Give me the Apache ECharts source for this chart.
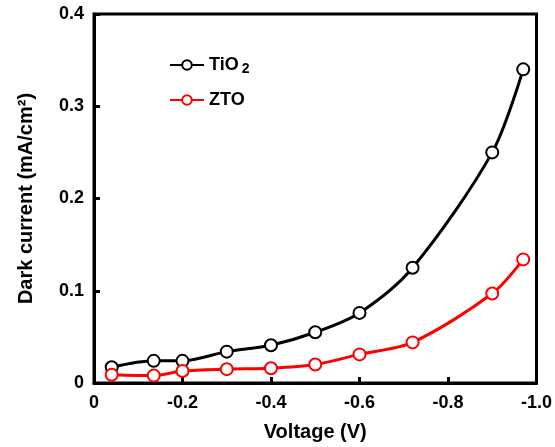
<!DOCTYPE html>
<html>
<head>
<meta charset="utf-8">
<script src="https://cdn.jsdelivr.net/npm/echarts@6/dist/echarts.min.js"></script>
<style>
html,body{margin:0;padding:0;background:#fff;}
#chart{width:555px;height:447px;}
</style>
</head>
<body>
<div id="chart"></div>
<script>
var voltage = [-0.04, -0.135, -0.2, -0.3, -0.4, -0.5, -0.6, -0.72, -0.9, -0.97];
var tio2 = [0.017, 0.024, 0.024, 0.034, 0.041, 0.055, 0.076, 0.125, 0.250, 0.340];
var zto  = [0.009, 0.008, 0.013, 0.015, 0.016, 0.020, 0.031, 0.044, 0.097, 0.134];
var seriesNames = ['TiO2', 'ZTO'];

function pairs(xs, ys){ return xs.map(function(x,i){ return [x, ys[i]]; }); }
var FONT = '"Liberation Sans", Arial, sans-serif';

var chart = echarts.init(document.getElementById('chart'), null, {renderer:'canvas'});
var legendText = {
  fontFamily: FONT, fontWeight: 'bold', fontSize: 17, color: '#000',
  rich: {
    a: {fontFamily: FONT, fontWeight: 'bold', fontSize: 18, color: '#000'},
    sub: {fontFamily: FONT, fontWeight: 'bold', fontSize: 14, color: '#000', padding: [8, 0, 0, 3]}
  }
};
chart.setOption({
  animation: false,
  backgroundColor: '#fff',
  grid: {left: 94, right: 14, top: 14, bottom: 61, show: true, borderColor: '#000', borderWidth: 3, backgroundColor: 'transparent'},
  legend: [
    {data: [seriesNames[0]], left: 164, top: 51, itemWidth: 34, itemHeight: 12,
     textStyle: legendText, formatter: function(){ return '{a|TiO}{sub|2}'; }},
    {data: [seriesNames[1]], left: 164, top: 86, itemWidth: 34, itemHeight: 12,
     textStyle: legendText, formatter: function(){ return '{a|ZTO}'; }}
  ],
  xAxis: {
    type: 'value', inverse: true, min: -1.0, max: 0, interval: 0.2,
    name: 'Voltage (V)', nameLocation: 'middle', nameGap: 39,
    nameTextStyle: {fontFamily: FONT, fontWeight: 'bold', fontSize: 20, color: '#000'},
    axisLine: {show: true, lineStyle: {color: '#000', width: 3}},
    axisTick: {show: true, inside: true, length: 6, lineStyle: {color: '#000', width: 3}},
    axisLabel: {margin: 11, fontFamily: FONT, fontWeight: 'bold', fontSize: 18, color: '#000',
      formatter: function(v){ return v === 0 ? '0' : v.toFixed(1); }},
    splitLine: {show: false}
  },
  yAxis: {
    type: 'value', min: 0, max: 0.4, interval: 0.1,
    name: 'Dark current (mA/cm²)', nameLocation: 'middle', nameGap: 58,
    nameTextStyle: {fontFamily: FONT, fontWeight: 'bold', fontSize: 20, color: '#000'},
    axisLine: {show: true, lineStyle: {color: '#000', width: 3}},
    axisTick: {show: true, inside: true, length: 6, lineStyle: {color: '#000', width: 3}},
    axisLabel: {margin: 10, fontFamily: FONT, fontWeight: 'bold', fontSize: 18, color: '#000',
      formatter: function(v){ return v === 0 ? '0' : v.toFixed(1); }},
    splitLine: {show: false}
  },
  series: [
    {name: seriesNames[0], type: 'line', data: pairs(voltage, tio2), smooth: 0.3,
     symbol: 'emptyCircle', symbolSize: 12,
     lineStyle: {color: '#000', width: 3}, itemStyle: {color: '#000', borderWidth: 2}},
    {name: seriesNames[1], type: 'line', data: pairs(voltage, zto), smooth: 0.3,
     symbol: 'emptyCircle', symbolSize: 12,
     lineStyle: {color: '#ff0000', width: 3}, itemStyle: {color: '#ff0000', borderWidth: 2}}
  ]
});
</script>
</body>
</html>
